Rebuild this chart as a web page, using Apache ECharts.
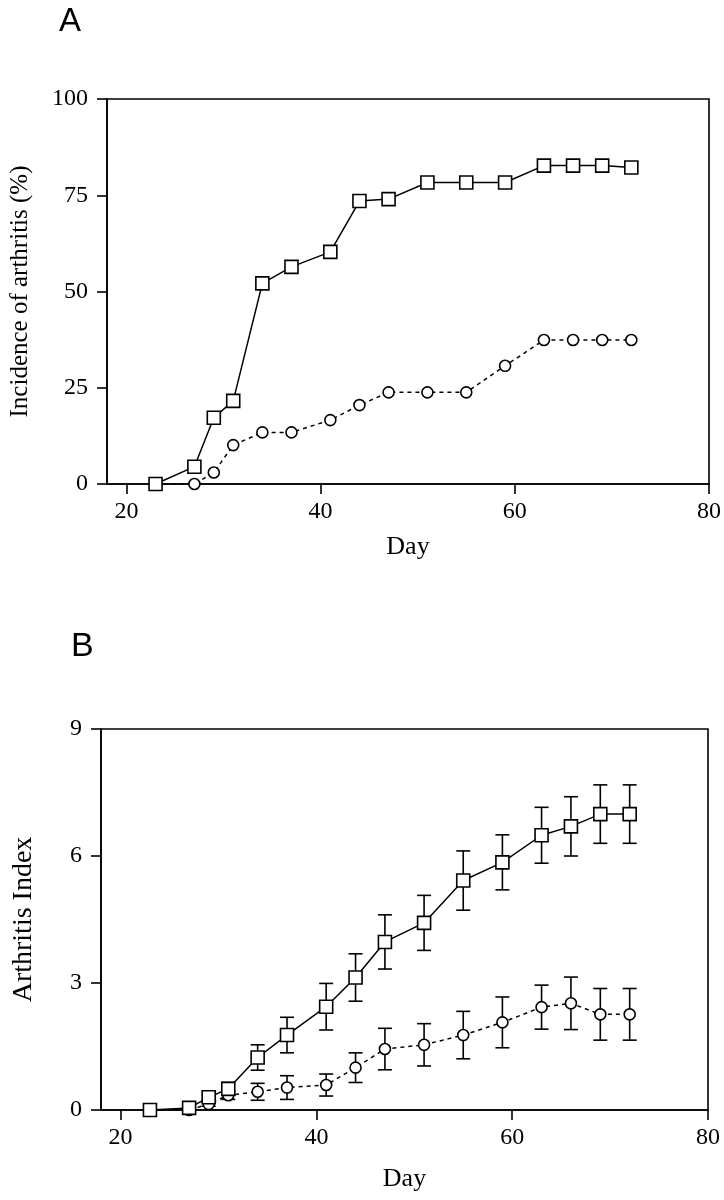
<!DOCTYPE html>
<html>
<head>
<meta charset="utf-8">
<script src="https://cdn.jsdelivr.net/npm/echarts@6/dist/echarts.min.js"></script>
<style>
  html, body { margin: 0; padding: 0; background: #fff; }
  #chart { width: 724px; height: 1200px; }
</style>
</head>
<body>
<div id="chart"></div>
<script>
// days of observation (shared by both panels)
const days = [23, 27, 29, 31, 34, 37, 41, 44, 47, 51, 55, 59, 63, 66, 69, 72];
const dayTicks = [20, 40, 60, 80];

// panel A: incidence of arthritis (%)
const incidenceSquare = [0, 4.5, 17.2, 21.6, 52.1, 56.4, 60.3, 73.5, 74, 78.3, 78.3, 78.3, 82.7, 82.7, 82.7, 82.2];
const incidenceCircle = [0, 0, 3.0, 10.1, 13.4, 13.4, 16.6, 20.5, 23.8, 23.8, 23.8, 30.7, 37.4, 37.4, 37.4, 37.4];

// panel B: arthritis index, mean and error
const indexSquare = [0, 0.05, 0.3, 0.5, 1.24, 1.77, 2.44, 3.13, 3.97, 4.42, 5.42, 5.85, 6.49, 6.7, 6.99, 6.99];
const indexSquareErr = [0, 0, 0.05, 0.15, 0.3, 0.42, 0.55, 0.56, 0.64, 0.65, 0.7, 0.65, 0.66, 0.7, 0.69, 0.69];
const indexCircle = [0, 0, 0.14, 0.35, 0.43, 0.53, 0.59, 1.0, 1.44, 1.54, 1.77, 2.07, 2.43, 2.52, 2.26, 2.26];
const indexCircleErr = [0, 0, 0.05, 0.1, 0.2, 0.28, 0.26, 0.35, 0.49, 0.5, 0.56, 0.6, 0.52, 0.62, 0.61, 0.61];

const serif = 'Liberation Serif';

const pairs = (ys) => days.map((d, i) => [d, ys[i]]);
const errRows = (ys, es) => days.map((d, i) => [d, ys[i] - es[i], ys[i] + es[i]]);

// vertical bar with caps
const renderErr = (params, api) => {
  const lo = api.value(1);
  const hi = api.value(2);
  if (hi - lo <= 0) return null;
  const top = api.coord([api.value(0), hi]);
  const bot = api.coord([api.value(0), lo]);
  const half = 7;
  const style = { stroke: '#000', lineWidth: 1.6 };
  return {
    type: 'group',
    children: [
      { type: 'line', shape: { x1: top[0], y1: top[1], x2: bot[0], y2: bot[1] }, style },
      { type: 'line', shape: { x1: top[0] - half, y1: top[1], x2: top[0] + half, y2: top[1] }, style },
      { type: 'line', shape: { x1: bot[0] - half, y1: bot[1], x2: bot[0] + half, y2: bot[1] }, style }
    ]
  };
};

const xAxisBase = (gridIndex, gap) => ({
  type: 'value',
  gridIndex,
  min: 18,
  max: 80,
  name: 'Day',
  nameLocation: 'middle',
  nameGap: gap,
  nameTextStyle: { fontFamily: serif, fontSize: 26, color: '#000' },
  axisLine: { lineStyle: { color: '#000', width: 1.6 } },
  axisTick: { customValues: dayTicks, length: 10, lineStyle: { color: '#000', width: 1.6 } },
  axisLabel: { customValues: dayTicks, fontFamily: serif, fontSize: 24, color: '#000', margin: 16 },
  splitLine: { show: false }
});

const yAxisBase = (gridIndex, max, interval, name, size, gap) => ({
  type: 'value',
  gridIndex,
  min: 0,
  max,
  interval,
  name,
  nameLocation: 'middle',
  nameGap: gap,
  nameTextStyle: { fontFamily: serif, fontSize: size, color: '#000' },
  axisLine: { show: true, lineStyle: { color: '#000', width: 1.6 } },
  axisTick: { show: true, length: 10, lineStyle: { color: '#000', width: 1.6 } },
  axisLabel: { fontFamily: serif, fontSize: 24, color: '#000', margin: 19 },
  splitLine: { show: false }
});

const squareStyle = {
  type: 'line',
  symbol: 'rect',
  symbolSize: 13,
  z: 4,
  itemStyle: { color: '#fff', borderColor: '#000', borderWidth: 1.6 },
  lineStyle: { color: '#000', width: 1.5 }
};
const circleStyle = {
  type: 'line',
  symbol: 'circle',
  symbolSize: 11,
  z: 3,
  itemStyle: { color: '#fff', borderColor: '#000', borderWidth: 1.6 },
  lineStyle: { color: '#000', width: 1.5, type: [4, 4] }
};

const chart = echarts.init(document.getElementById('chart'), null, { renderer: 'canvas' });

chart.setOption({
  animation: false,
  backgroundColor: '#fff',
  title: [
    { text: 'A', left: 59, top: 5, padding: 0, textStyle: { fontFamily: 'Liberation Sans', fontSize: 33, fontWeight: 'normal', color: '#000' } },
    { text: 'B', left: 71, top: 630, padding: 0, textStyle: { fontFamily: 'Liberation Sans', fontSize: 34, fontWeight: 'normal', color: '#000' } }
  ],
  grid: [
    { left: 103, top: 99, width: 607, height: 385, show: true, borderColor: '#000', borderWidth: 1.6 },
    { left: 101, top: 729, width: 607, height: 381, show: true, borderColor: '#000', borderWidth: 1.6 }
  ],
  xAxis: [xAxisBase(0, 50), xAxisBase(1, 56)],
  yAxis: [
    yAxisBase(0, 100, 25, 'Incidence of arthritis (%)', 25, 74),
    yAxisBase(1, 9, 3, 'Arthritis Index', 28, 63)
  ],
  series: [
    Object.assign({}, circleStyle, { name: 'circle A', xAxisIndex: 0, yAxisIndex: 0, data: pairs(incidenceCircle) }),
    Object.assign({}, squareStyle, { name: 'square A', xAxisIndex: 0, yAxisIndex: 0, data: pairs(incidenceSquare) }),
    {
      type: 'custom', name: 'err circle', xAxisIndex: 1, yAxisIndex: 1, z: 1,
      renderItem: renderErr, data: errRows(indexCircle, indexCircleErr)
    },
    {
      type: 'custom', name: 'err square', xAxisIndex: 1, yAxisIndex: 1, z: 1,
      renderItem: renderErr, data: errRows(indexSquare, indexSquareErr)
    },
    Object.assign({}, circleStyle, { name: 'circle B', xAxisIndex: 1, yAxisIndex: 1, data: pairs(indexCircle) }),
    Object.assign({}, squareStyle, { name: 'square B', xAxisIndex: 1, yAxisIndex: 1, data: pairs(indexSquare) })
  ]
});
</script>
</body>
</html>
